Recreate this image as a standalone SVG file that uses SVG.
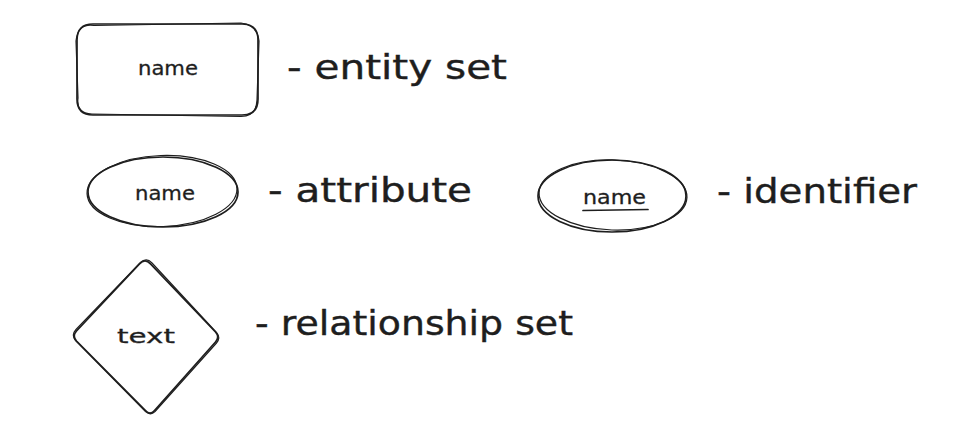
<svg xmlns="http://www.w3.org/2000/svg" width="962" height="437" viewBox="0 0 962 437">
  <style>
    .sk { fill: none; stroke: #1e1e1e; stroke-width: 1.7; stroke-linecap: round; stroke-linejoin: round; }
    .sk2 { fill: none; stroke: #1e1e1e; stroke-width: 1.2; stroke-linecap: round; stroke-linejoin: round; }
    .lbl { font-family: "DejaVu Sans", "Liberation Sans", sans-serif; font-size: 34px; fill: #1e1e1e; stroke: #1e1e1e; stroke-width: 0.4; }
    .nm { font-family: "DejaVu Sans", "Liberation Sans", sans-serif; font-size: 20px; fill: #1e1e1e; stroke: #1e1e1e; stroke-width: 0.3; }
  </style>
  <rect width="962" height="437" fill="#ffffff"/>

  <g id="entity-set">
    <path class="sk" d="M93 24 L242 24 Q258 24 258 40 L258 99 Q258 115 242 115 L93 115 Q77 115 77 99 L77 40 Q77 24 93 24 Z"/>
    <path class="sk2" d="M94 25.5 L241 23 Q257.5 25 259 41 L257 100 Q256.5 116 241 116.5 L92 114 Q76 113.5 78 98 L76 41 Q78 23 94 25.5 Z"/>
    <text class="nm" x="138" y="75" textLength="60" lengthAdjust="spacingAndGlyphs">name</text>
    <text class="lbl" x="287" y="79" textLength="220" lengthAdjust="spacingAndGlyphs">- entity set</text>
  </g>

  <g id="attribute">
    <ellipse class="sk" cx="163" cy="192" rx="75" ry="35"/>
    <ellipse class="sk2" cx="162" cy="191" rx="75" ry="35.5" transform="rotate(-2 162 191)"/>
    <text class="nm" x="135" y="200" textLength="60" lengthAdjust="spacingAndGlyphs">name</text>
    <text class="lbl" x="268" y="202" textLength="204" lengthAdjust="spacingAndGlyphs">- attribute</text>
  </g>

  <g id="identifier">
    <ellipse class="sk" cx="612" cy="196" rx="74" ry="36"/>
    <ellipse class="sk2" cx="613" cy="195" rx="74" ry="35" transform="rotate(2 613 195)"/>
    <text class="nm" x="583" y="204" textLength="63" lengthAdjust="spacingAndGlyphs">name</text>
    <path class="sk" d="M583 210.5 L648 209.5" stroke-width="2.2"/>
    <text class="lbl" x="717" y="203" textLength="200" lengthAdjust="spacingAndGlyphs">- identifier</text>
  </g>

  <g id="relationship-set">
    <path class="sk" d="M139.5 263.8 Q145 258 150.5 263.8 L215.5 332 Q220 337 215.5 342 L154.5 410.5 Q150 415.5 145.5 410.5 L76.5 341 Q72 336 76.5 331 Z"/>
    <path class="sk2" d="M140.5 262.5 Q146.5 257 152 263 L216.5 332.5 Q221 338 216.5 343 L155 411.5 Q150.5 416 145.5 411.5 L75.5 340.5 Q71 335 76 329.5 Z"/>
    <text class="nm" x="117" y="343" textLength="58" lengthAdjust="spacingAndGlyphs">text</text>
    <text class="lbl" x="255" y="335" textLength="318" lengthAdjust="spacingAndGlyphs">- relationship set</text>
  </g>

  <g id="connectors"></g>
</svg>
